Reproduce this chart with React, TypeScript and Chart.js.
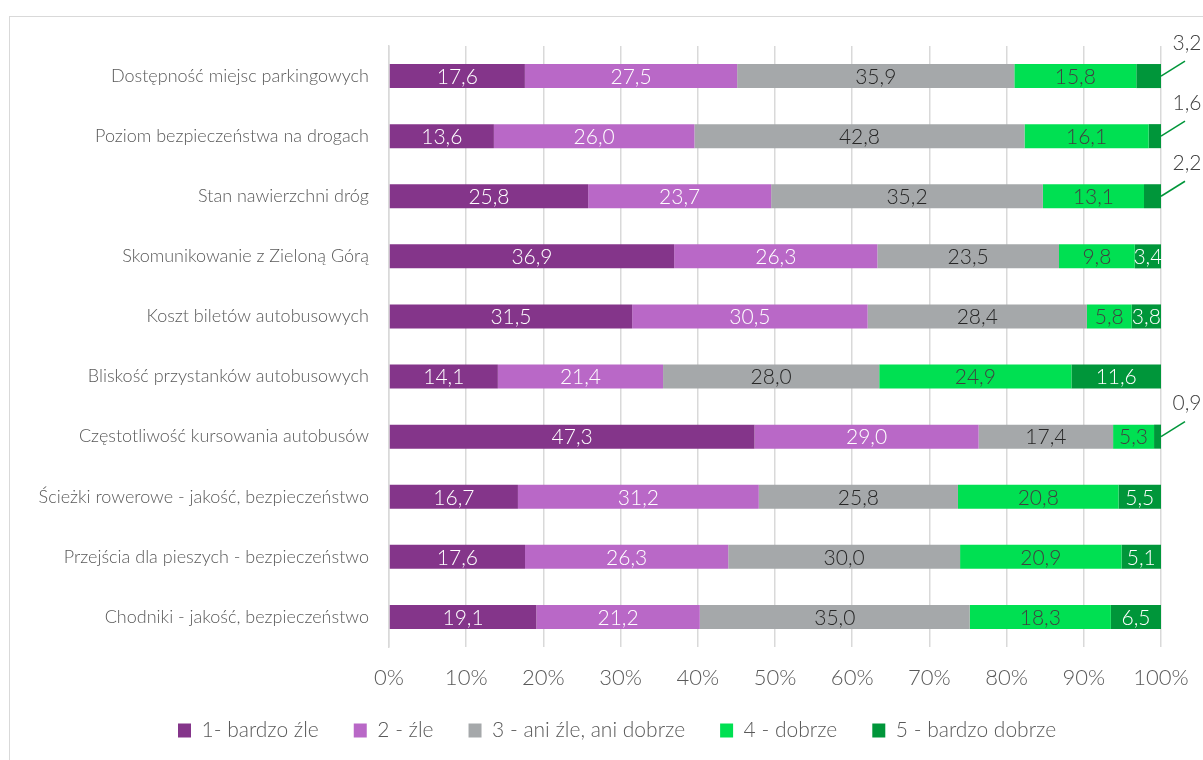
import React, { useEffect, useRef } from "react";
import { Chart, registerables } from "chart.js";

Chart.register(...registerables);

const categories = [
  "Dostępność miejsc parkingowych",
  "Poziom bezpieczeństwa na drogach",
  "Stan nawierzchni dróg",
  "Skomunikowanie z Zieloną Górą",
  "Koszt biletów autobusowych",
  "Bliskość przystanków autobusowych",
  "Częstotliwość kursowania autobusów",
  "Ścieżki rowerowe - jakość, bezpieczeństwo",
  "Przejścia dla pieszych - bezpieczeństwo",
  "Chodniki - jakość, bezpieczeństwo",
];

const seriesNames = [
  "1- bardzo źle",
  "2 - źle",
  "3 - ani źle, ani dobrze",
  "4 - dobrze",
  "5 - bardzo dobrze",
];

const bardzoZle = [17.6, 13.6, 25.8, 36.9, 31.5, 14.1, 47.3, 16.7, 17.6, 19.1];
const zle = [27.5, 26.0, 23.7, 26.3, 30.5, 21.4, 29.0, 31.2, 26.3, 21.2];
const aniZleAniDobrze = [35.9, 42.8, 35.2, 23.5, 28.4, 28.0, 17.4, 25.8, 30.0, 35.0];
const dobrze = [15.8, 16.1, 13.1, 9.8, 5.8, 24.9, 5.3, 20.8, 20.9, 18.3];
const bardzoDobrze = [3.2, 1.6, 2.2, 3.4, 3.8, 11.6, 0.9, 5.5, 5.1, 6.5];

const xTicks = [0, 10, 20, 30, 40, 50, 60, 70, 80, 90, 100];

const colors = ["#84358A", "#B968C7", "#A5A8AA", "#00E052", "#00963A"];
const labelColors = ["#FFFFFF", "#FFFFFF", "#262626", "#404040", "#FFFFFF"];

const FONT = "Lato, 'Open Sans', sans-serif";
const WEIGHT = 300;

const fmt = (v: number) => v.toFixed(1).replace(".", ",");

const rawSeries = [bardzoZle, zle, aniZleAniDobrze, dobrze, bardzoDobrze];

const rowTotals = categories.map((_, i) =>
  rawSeries.reduce((s, arr) => s + arr[i], 0)
);

const PAD_BOTTOM = 9;
const LEGEND_PAD = 35;
const LEGEND_START = 178;

const valueLabels = {
  id: "valueLabels",
  afterLayout(chart: any) {
    if (chart.legend) {
      const w = chart.legend.right - chart.legend.left;
      chart.legend.left = LEGEND_START - LEGEND_PAD;
      chart.legend.right = chart.legend.left + w;
    }
  },
  afterDatasetsDraw(chart: any) {
    const ctx = chart.ctx;
    ctx.save();
    ctx.font = `${WEIGHT} 21px ${FONT}`;
    ctx.textBaseline = "middle";
    ctx.textAlign = "center";
    chart.data.datasets.forEach((ds: any, di: number) => {
      const meta = chart.getDatasetMeta(di);
      meta.data.forEach((bar: any, i: number) => {
        const raw = rawSeries[di][i];
        const text = fmt(raw);
        const left = Math.min(bar.x, bar.base);
        const right = Math.max(bar.x, bar.base);
        if (di === 4 && raw < 3.3) {
          const lx = right + 26;
          const ly = bar.y - 33;
          ctx.strokeStyle = "#00963A";
          ctx.lineWidth = 1.5;
          ctx.beginPath();
          ctx.moveTo(right, bar.y);
          ctx.lineTo(right + 24, bar.y - 15);
          ctx.stroke();
          ctx.fillStyle = "#404040";
          ctx.fillText(text, lx, ly);
        } else {
          ctx.fillStyle = labelColors[di];
          ctx.fillText(text, (left + right) / 2, bar.y + 1);
        }
      });
    });
    ctx.restore();
  },
};

export default function App() {
  const ref = useRef<HTMLCanvasElement | null>(null);

  useEffect(() => {
    if (!ref.current) return;
    const chart = new Chart(ref.current, {
      type: "bar",
      data: {
        labels: categories,
        datasets: rawSeries.map((arr, di) => ({
          label: seriesNames[di],
          data: arr.map((v, i) => (v / rowTotals[i]) * 100),
          backgroundColor: colors[di],
          borderWidth: 0,
          categoryPercentage: 1,
          barPercentage: 0.4,
        })),
      },
      options: {
        indexAxis: "y",
        responsive: false,
        animation: false,
        devicePixelRatio: 1,
        layout: { padding: { top: 46, right: 42, left: 0, bottom: PAD_BOTTOM } },
        plugins: {
          tooltip: { enabled: false },
          legend: {
            position: "bottom",
            align: "start",
            labels: {
              boxWidth: 13,
              boxHeight: 14,
              padding: LEGEND_PAD,
              color: "#595959",
              font: { family: FONT, size: 21, weight: WEIGHT },
            },
          },
        },
        scales: {
          x: {
            stacked: true,
            min: 0,
            max: 100,
            afterBuildTicks: (scale: any) => {
              scale.ticks = xTicks.map((v) => ({ value: v }));
            },
            afterFit: (scale: any) => {
              const lh = scale.chart.legend ? scale.chart.legend.height : 0;
              scale.height = 760 - 647 - lh - PAD_BOTTOM;
              scale.paddingLeft = 0;
              scale.paddingRight = 0;
            },
            ticks: {
              callback: (v: any) => v + "%",
              color: "#595959",
              font: { family: FONT, size: 22, weight: WEIGHT },
              padding: 18,
            },
            grid: { color: "#D9D9D9", lineWidth: 1.5, drawTicks: false },
            border: { display: false },
          },
          y: {
            stacked: true,
            afterFit: (scale: any) => {
              scale.width = 389;
            },
            ticks: {
              color: "#595959",
              font: { family: FONT, size: 18, weight: WEIGHT },
              padding: 20,
            },
            grid: { display: false, drawTicks: false },
            border: { display: true, color: "#D9D9D9", width: 1.5 },
          },
        },
      },
      plugins: [valueLabels],
    } as any);
    return () => chart.destroy();
  }, []);

  return (
    <div
      style={{
        position: "fixed",
        left: 0,
        top: 0,
        width: 1203,
        height: 760,
        overflow: "hidden",
        background: "#fff",
      }}
    >
      <div
        style={{
          position: "absolute",
          left: 9,
          top: 16,
          width: 1400,
          height: 900,
          border: "1px solid #D9D9D9",
        }}
      />
      <canvas
        ref={ref}
        width={1203}
        height={760}
        style={{ position: "absolute", left: 0, top: 0, width: 1203, height: 760 }}
      />
    </div>
  );
}
